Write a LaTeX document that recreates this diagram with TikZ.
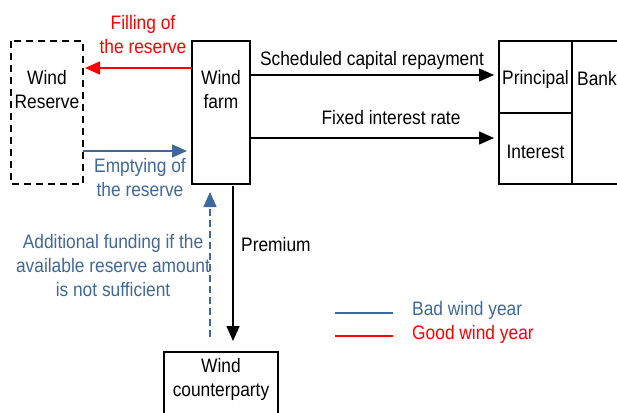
\documentclass[tikz,border=0pt]{standalone}
\usepackage{fontspec}
\setmainfont{Liberation Sans}[FakeStretch=0.89]
\usetikzlibrary{arrows.meta}
\definecolor{wblue}{RGB}{62,104,156}
\definecolor{wred}{RGB}{255,0,0}
\tikzset{
  box/.style={draw=black,line width=1.6pt},
  dbox/.style={draw=black,line width=1.6pt,dash pattern=on 7pt off 5pt},
  arr/.style={line width=1.6pt,-{Triangle[length=15pt,width=13pt]}},
  lbl/.style={font=\fontsize{19.5}{24}\selectfont,align=center,inner sep=0pt},
}
\begin{document}
\begin{tikzpicture}[x=1pt,y=1pt]
\useasboundingbox (0,0) rectangle (617,-412);
\begin{scope}
\clip (0,0) rectangle (617,-412);
% boxes
\draw[dbox] (11,-41) rectangle (83,-184);
\node[lbl] (reserve) at (47,-90) {Wind\\Reserve};
\draw[box] (192,-41) rectangle (250,-184);
\node[lbl] (farm) at (221,-90) {Wind\\farm};
\draw[box] (499,-41) rectangle (625,-184);
\draw[box] (572,-41) -- (572,-184);
\draw[box] (499,-113) -- (572,-113);
\node[lbl] (principal) at (535.5,-79) {Principal};
\node[lbl] (interest) at (535.5,-152) {Interest};
\node[lbl,anchor=west] (bank) at (577,-79) {Bank};
\draw[box] (164,-352) rectangle (278,-425);
\node[lbl] (counter) at (221,-379) {Wind\\counterparty};
% arrows
\coordinate (fL1) at (192,-68);
\coordinate (rR1) at (85,-68);
\draw[arr,wred] (fL1) -- (rR1);
\node[lbl,text=wred] (fill) at (143,-35) {Filling of\\the reserve};
\coordinate (rR2) at (83,-151);
\coordinate (fL2) at (187,-151);
\draw[arr,wblue] (rR2) -- (fL2);
\node[lbl,text=wblue] (empty) at (140,-178) {Emptying of\\the reserve};
\coordinate (fR1) at (250,-75);
\coordinate (pL) at (494,-75);
\draw[arr] (fR1) -- (pL);
\node[lbl] (sched) at (372,-60) {Scheduled capital repayment};
\coordinate (fR2) at (250,-138);
\coordinate (iL) at (494,-138);
\draw[arr] (fR2) -- (iL);
\node[lbl] (fixed) at (391,-118) {Fixed interest rate};
\coordinate (fB) at (233,-186);
\coordinate (cT) at (233,-341);
\draw[arr] (fB) -- (cT);
\node[lbl,anchor=west] (prem) at (241,-245) {Premium};
\coordinate (cT2) at (210,-337);
\coordinate (fB2) at (210,-192);
\draw[arr,wblue,dash pattern=on 7pt off 4pt,line width=1.4pt] (cT2) -- (fB2);
\node[lbl,text=wblue] (add) at (113,-266) {Additional funding if the\\available reserve amount\\is not sufficient};
% legend
\coordinate (l1a) at (335,-313);
\coordinate (l1b) at (393,-313);
\draw[wblue,line width=1.4pt] (l1a) -- (l1b);
\node[lbl,text=wblue,anchor=west] (bad) at (412,-310) {Bad wind year};
\coordinate (l2a) at (335,-336);
\coordinate (l2b) at (393,-336);
\draw[wred,line width=1.4pt] (l2a) -- (l2b);
\node[lbl,text=wred,anchor=west] (good) at (412,-334) {Good wind year};
\end{scope}
\end{tikzpicture}
\end{document}
